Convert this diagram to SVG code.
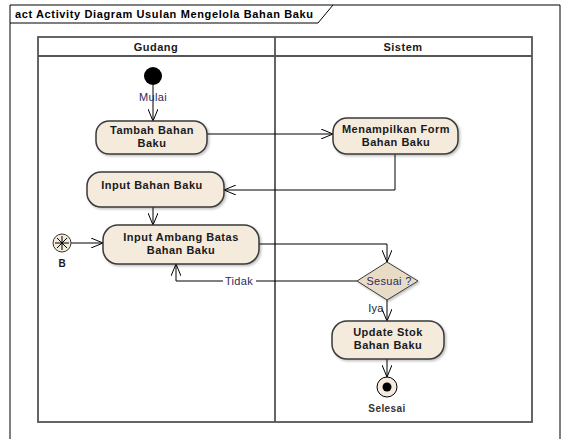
<svg xmlns="http://www.w3.org/2000/svg" width="562" height="439" viewBox="0 0 562 439">
<defs>
<marker id="arr" viewBox="0 0 12 10" refX="12" refY="5" markerWidth="12" markerHeight="10" markerUnits="userSpaceOnUse" orient="auto">
<path d="M0,0 L12,5 L0,10" fill="none" stroke="#000" stroke-width="1"/>
</marker>
<filter id="sh" x="-10%" y="-10%" width="130%" height="140%">
<feDropShadow dx="1.5" dy="1.5" stdDeviation="1" flood-color="#000" flood-opacity="0.25"/>
</filter>
</defs>
<style>
text{font-family:"Liberation Sans",Arial,sans-serif}
.t{font-size:11px;font-weight:bold;fill:#1a1a1a;text-anchor:middle;letter-spacing:0.5px}
.n{fill:#f4ebdd;stroke:#3a3a3a;stroke-width:1.5;filter:url(#sh)}
.lab{font-size:11px;fill:#2b2b5e;text-anchor:middle;letter-spacing:0.3px}
.c{fill:none;stroke:#000;stroke-width:1;marker-end:url(#arr)}
.lane{fill:none;stroke:#555;stroke-width:1.8}
</style>
<rect width="562" height="439" fill="#fff"/>
<g id="frame">
<path d="M10,439 L10,5 L560,5 L560,439" fill="none" stroke="#000" stroke-width="1"/>
<path d="M10,23 L318,23 L333,5" fill="none" stroke="#000" stroke-width="1"/>
<text x="15" y="18" textLength="298" lengthAdjust="spacing" style="font-size:11px;font-weight:bold;fill:#000">act Activity Diagram Usulan Mengelola Bahan Baku</text>
</g>
<g id="lanes">
<rect class="lane" x="38" y="37" width="494" height="385"/>
<line class="lane" x1="38" y1="56" x2="532" y2="56"/>
<line class="lane" x1="275" y1="37" x2="275" y2="422"/>
<text class="t" x="156" y="51">Gudang</text>
<text class="t" x="403" y="51">Sistem</text>
</g>
<g id="connectors">
<line class="c" x1="153" y1="85" x2="153" y2="121"/>
<line class="c" x1="207" y1="134" x2="333" y2="134"/>
<polyline class="c" points="395,154 395,190 224,190"/>
<line class="c" x1="153" y1="207" x2="153" y2="225"/>
<line class="c" x1="71" y1="243" x2="103" y2="243"/>
<polyline class="c" points="259,244 387,244 387,262"/>
<polyline class="c" points="357,281 176,281 176,264"/>
<line class="c" x1="387" y1="300" x2="387" y2="321"/>
<line class="c" x1="387" y1="359" x2="387" y2="377"/>
<rect x="223" y="275" width="33" height="12" fill="#fff"/>
<text class="lab" x="239" y="285">Tidak</text>
<text class="lab" x="376" y="312" style="fill:#1a1a1a">Iya</text>
</g>
<g id="start">
<circle cx="153" cy="76" r="9" fill="#000"/>
<text class="lab" x="153" y="101">Mulai</text>
</g>
<g id="tambah">
<rect class="n" x="96" y="121" width="111" height="33" rx="13"/>
<text class="t" x="152" y="134">Tambah Bahan</text>
<text class="t" x="152" y="147">Baku</text>
</g>
<g id="menampilkan">
<rect class="n" x="333" y="118" width="125" height="36" rx="14"/>
<text class="t" x="396" y="133">Menampilkan Form</text>
<text class="t" x="396" y="146">Bahan Baku</text>
</g>
<g id="inputbahan">
<rect class="n" x="87" y="172" width="137" height="35" rx="14"/>
<text class="t" x="152" y="189">Input Bahan Baku</text>
</g>
<g id="b">
<circle cx="62" cy="243" r="9" fill="#f4ebdd" stroke="#333" stroke-width="1"/>
<path d="M62,236 L62,250 M55,243 L69,243 M57,238 L67,248 M67,238 L57,248" stroke="#000" stroke-width="1"/>
<text x="62" y="267" style="font-size:10px;font-weight:bold;fill:#1a1a1a;text-anchor:middle">B</text>
</g>
<g id="ambang">
<rect class="n" x="103" y="225" width="156" height="39" rx="15"/>
<text class="t" x="181" y="241">Input Ambang Batas</text>
<text class="t" x="181" y="254">Bahan Baku</text>
</g>
<g id="sesuai">
<polygon points="387,262 418,281 387,300 357,281" fill="#e8dcc6" stroke="#3a3a3a" stroke-width="1" filter="url(#sh)"/>
<text class="lab" x="389" y="285">Sesuai ?</text>
</g>
<g id="update">
<rect class="n" x="332" y="321" width="112" height="38" rx="15"/>
<text class="t" x="388" y="336">Update Stok</text>
<text class="t" x="388" y="349">Bahan Baku</text>
</g>
<g id="end">
<circle cx="387" cy="387" r="10" fill="#f4ebdd" stroke="#000" stroke-width="1"/>
<circle cx="387" cy="387" r="4.5" fill="#000"/>
<text x="387" y="412" style="font-size:10px;font-weight:bold;fill:#333;text-anchor:middle;letter-spacing:0.4px">Selesai</text>
</g>
</svg>
